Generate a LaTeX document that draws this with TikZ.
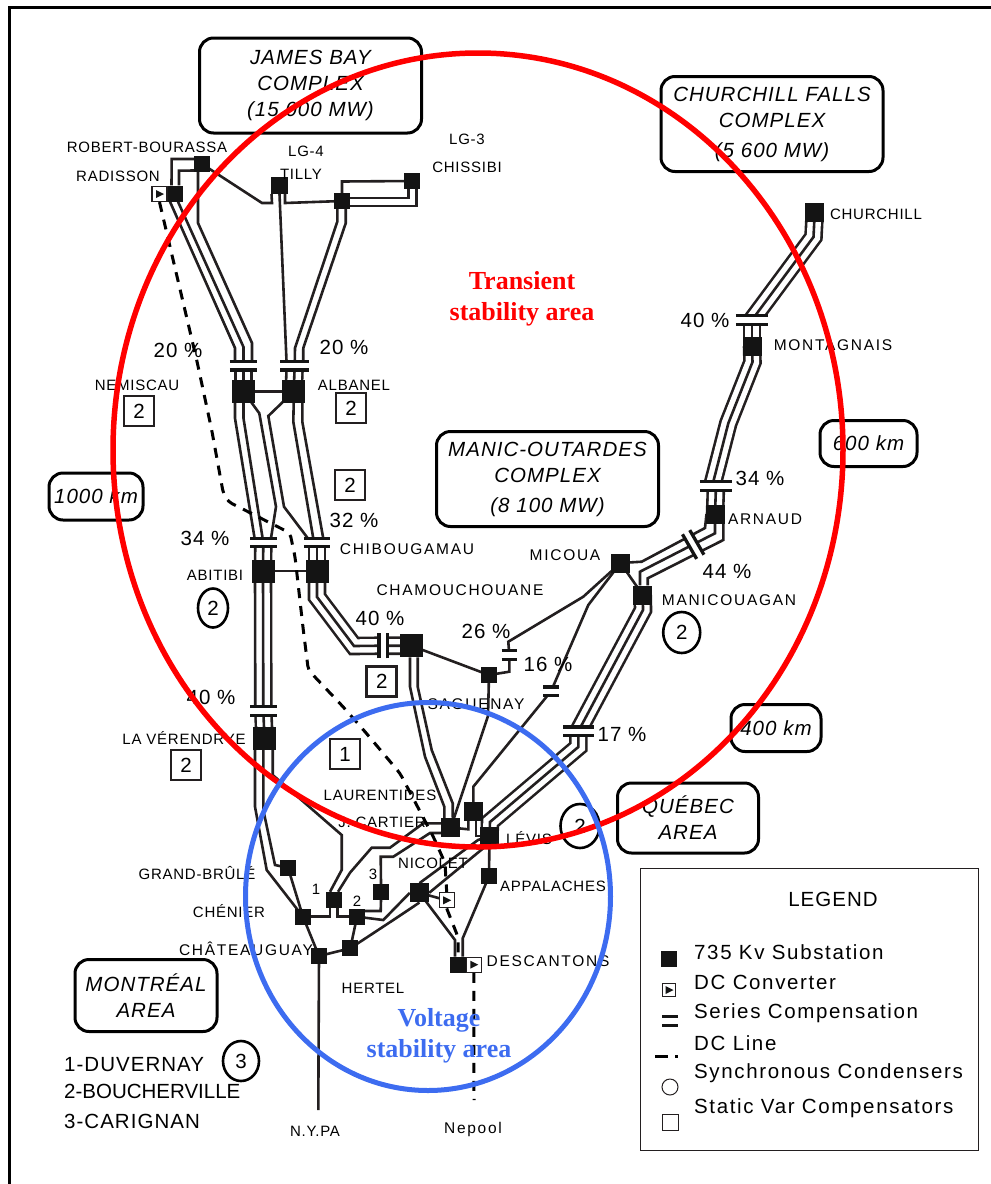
\documentclass[tikz,border=0pt]{standalone}
\usepackage{fontspec}
\setmainfont{Liberation Sans}
\newfontfamily\spacedsans[LetterSpace=5]{Liberation Sans}
\newfontfamily\legendsans[LetterSpace=8]{Liberation Sans}
\newfontfamily\widesans[LetterSpace=11]{Liberation Sans}
\newfontfamily\stabserif{Liberation Serif}
\usetikzlibrary{shapes,backgrounds}
\definecolor{ink}{HTML}{231F20}
\definecolor{subfill}{HTML}{141414}
\definecolor{voltblue}{HTML}{3D6CF0}

\begin{document}
\begin{tikzpicture}[
    x=1pt, y=-1pt,
    substation/.style={rectangle, fill=subfill, minimum size=16pt, inner sep=0pt},
    bigsub/.style={substation, minimum size=23pt},
    medsub/.style={substation, minimum size=19pt},
    converter/.style={rectangle, draw=ink, line width=1.2pt, fill=white, minimum size=15pt, inner sep=0pt,
        path picture={\fill[subfill] ([xshift=-3.5pt,yshift=4pt]path picture bounding box.center) -- ([xshift=4.5pt]path picture bounding box.center) -- ([xshift=-3.5pt,yshift=-4pt]path picture bounding box.center) -- cycle;}},
    barstroke/.style={draw=subfill, line width=3.3pt},
    seriescap/.style={rectangle, fill=white, minimum width=#1, minimum height=8pt, inner sep=0pt,
        append after command={(\tikzlastnode.north west) edge[barstroke] (\tikzlastnode.north east)
        (\tikzlastnode.south west) edge[barstroke] (\tikzlastnode.south east)}},
    tie/.style={draw=ink, line width=2.6pt},
    bundle/.style={draw=ink, line width=2.6pt, preaction={draw=ink, line width=18.6pt}, preaction={draw=white, line width=13.4pt}},
    dcline/.style={draw=black, line width=3pt, dash pattern=on 10pt off 8pt, rounded corners=4pt},
    site/.style={font=\spacedsans\fontsize{15}{17}\selectfont, inner sep=0pt},
    sitewide/.style={font=\widesans\fontsize{15.5}{17}\selectfont, inner sep=0pt},
    pct/.style={font=\spacedsans\fontsize{20.5}{24}\selectfont, inner sep=0pt},
    svc/.style={rectangle, draw=ink, line width=2.8pt, minimum size=30pt, inner sep=0pt, font=\fontsize{20.5}{24}\selectfont},
    syn/.style={ellipse, draw=black, line width=2.6pt, inner sep=0pt, font=\fontsize{20.5}{24}\selectfont},
    areabox/.style={rectangle, rounded corners=14pt, draw=black, line width=3pt, align=center, inner sep=0pt, font=\spacedsans\itshape\fontsize{20.5}{26}\selectfont},
    stabtext/.style={font=\stabserif\bfseries\fontsize{26}{30.5}\selectfont, align=center, inner sep=0pt},
    legtext/.style={anchor=west, font=\legendsans\fontsize{20.5}{24}\selectfont, inner sep=0pt}
]
\useasboundingbox (0,0) rectangle (991,1184);

\draw[black, line width=3pt] (991,7.5) -- (9.5,7.5) -- (9.5,1184);

\node[substation] (rbourassa) at (202,164) {};
\node[substation] (radisson) at (175,193.5) {};
\node[converter] (radconv) at (159.5,194) {};
\node[substation, minimum size=17pt] (tilly) at (279.5,185.5) {};
\node[substation] (lgthree) at (412,181) {};
\node[substation] (lgjunction) at (342,201) {};
\node[bigsub] (nemiscau) at (243.5,391.5) {};
\node[bigsub] (albanel) at (293.7,391.5) {};
\node[bigsub] (abitibi) at (263,571) {};
\node[bigsub] (chibougamau) at (317,571) {};
\node[bigsub] (verendrye) at (264.5,738.5) {};
\node[bigsub] (chamouchouane) at (411.3,645.7) {};
\node[substation] (saguenay) at (489,675) {};
\node[medsub] (micoua) at (620.5,563) {};
\node[medsub] (manicouagan) at (642.8,595) {};
\node[medsub] (arnaud) at (715,514) {};
\node[medsub] (montagnais) at (752,346) {};
\node[medsub] (churchill) at (814.7,212.8) {};
\node[substation] (grandbrule) at (288,867.7) {};
\node[substation] (chenier) at (303,916.7) {};
\node[substation] (duvernay) at (334,900) {};
\node[substation] (boucherville) at (357,916.7) {};
\node[substation] (carignan) at (381,892) {};
\node[substation] (chateauguay) at (319,956) {};
\node[substation] (hertel) at (350.3,948.3) {};
\node[medsub] (jcartier) at (450.8,827.5) {};
\node[medsub] (laurentides) at (473.3,811) {};
\node[medsub] (levis) at (489.5,836) {};
\node[medsub] (nicolet) at (419.5,892.8) {};
\node[converter] (nicconv) at (446.7,900.3) {};
\node[substation] (appalaches) at (489,876.3) {};
\node[substation] (descantons) at (458,964.7) {};
\node[converter] (desconv) at (473.8,964.7) {};

\node[seriescap=27pt] (nembar) at (243.5,365.7) {};
\node[seriescap=29pt] (albbar) at (294.7,365.7) {};
\node[seriescap=26pt] (abibar) at (263.3,542.5) {};
\node[seriescap=26pt] (chibar) at (317,542.5) {};
\node[seriescap=26pt] (verbar) at (263.3,711) {};
\node[seriescap=25pt, rotate=90] (chabar) at (383.3,645.7) {};
\node[seriescap=15pt] (sagbar) at (509.3,655) {};
\node[seriescap=15pt] (micbar) at (551,691.3) {};
\node[seriescap=30pt] (manbar) at (578.3,731.3) {};
\node[seriescap=28pt, rotate=-60] (tiebar) at (693.2,544.5) {};
\node[seriescap=31pt] (arnbar) at (716,486) {};
\node[seriescap=32pt] (monbar) at (752,320) {};

\coordinate (nypaend) at (318.3,1110);
\coordinate (nepoolend) at (474,1100);

\begin{scope}[on background layer]
\draw[tie] ([yshift=5pt]rbourassa.west) -- (171.7,159) -- ([xshift=-3.5pt]radisson.north);
\draw[tie] ([yshift=-6.5pt]rbourassa.west) -- (179,170.7) -- ([xshift=4pt]radisson.north);
\draw[tie] ([xshift=-4pt]rbourassa.south) -- (198,223) -- (252,343) -- ([xshift=8.5pt]nembar.center);
\draw[tie] ([xshift=-5pt]radisson.south) -- (235,348) -- ([xshift=-8.5pt]nembar.center);
\draw[tie] ([xshift=3pt]radisson.south) -- (243.5,347) -- (nembar.center);
\draw[tie] (rbourassa.center) -- (262,203) -- (272,203) -- ([xshift=-8pt]tilly.south);
\draw[tie] ([xshift=5.5pt]tilly.south) -- (285,203) -- (lgjunction.center);
\draw[tie] (tilly.south) -- ([xshift=-8pt]albbar.center);
\draw[tie] ([xshift=-4.7pt]lgjunction.south) -- (337.3,221.7) -- (295,348) -- (albbar.center);
\draw[tie] ([xshift=3.7pt]lgjunction.south) -- (345.7,223.3) -- (303.3,348) -- ([xshift=8.5pt]albbar.center);
\draw[tie] (lgjunction.north) -- (342,181.5) -- (lgthree.center);
\draw[tie] ([yshift=3pt]lgjunction.east) -- (408.3,198) -- ([xshift=-3.7pt]lgthree.south);
\draw[tie] ([yshift=-5pt]lgjunction.east) -- (416.7,206) -- ([xshift=4.7pt]lgthree.south);
\draw[bundle] (nembar.center) -- (nemiscau.center);
\draw[bundle] (albbar.center) -- (albanel.center);
\draw[tie] (nemiscau.center) -- (albanel.center);
\draw[tie] ([xshift=-8.5pt]nemiscau.south) -- (235,418.3) -- ([xshift=-8pt]abibar.center);
\draw[tie] (nemiscau.south) -- (243.5,418.3) -- (abibar.center);
\draw[tie] (nemiscau.center) -- (259.3,413.3) -- (276,506.7) -- ([xshift=7pt]abibar.center);
\draw[tie] (albanel.center) -- (268.3,416) -- (284,506.7) -- ([xshift=-6pt]chibar.center);
\draw[tie] (albanel.south) -- (293.3,421.7) -- ([xshift=-3pt]chibar.center);
\draw[tie] ([xshift=8.6pt]albanel.south) -- (302.3,421.7) -- ([xshift=7pt]chibar.center);
\draw[bundle] (abibar.center) -- (abitibi.center);
\draw[bundle] (chibar.center) -- (chibougamau.center);
\draw[tie] (abitibi.center) -- (chibougamau.center);
\draw[bundle] (abitibi.center) -- (verbar.center);
\draw[bundle] (verbar.center) -- (verendrye.center);
\draw[bundle] (chibougamau.center) -- (317,597) -- (354,646) -- (chabar.center) -- (chamouchouane.center);
\draw[tie] ([xshift=-1.3pt]chamouchouane.south) -- (410,686.7) -- (425,756.7) -- (444.3,806.7) -- ([xshift=-6.5pt]jcartier.north);
\draw[tie] ([xshift=6.4pt]chamouchouane.south) -- (417.7,686.7) -- (431.7,750) -- (452.7,803.3) -- ([xshift=2pt]jcartier.north);
\draw[tie] (chamouchouane.center) -- (saguenay.center);
\draw[tie] (saguenay.center) -- (488,716) -- (jcartier.center);
\draw[tie] (saguenay.center) -- (509.3,671.7) -- (sagbar.center);
\draw[tie] (sagbar.center) -- (508.3,641.7) -- (583.3,596.7) -- (micoua.center);
\draw[tie] (micoua.center) -- (588.3,605) -- (micbar.center);
\draw[tie] (micbar.center) -- (473.3,786.7) -- (laurentides.center);
\draw[tie] (micoua.center) -- (manicouagan.center);
\draw[tie] (micoua.center) -- (641.7,561.7) -- (705,528) -- ([xshift=-8.5pt]arnaud.center);
\draw[tie] ([xshift=-2.8pt]manicouagan.north) -- (640,571.7) -- (715,533.3) -- (arnaud.center);
\draw[tie] ([xshift=4.9pt]manicouagan.north) -- (647.7,578.3) -- (723.3,540) -- ([xshift=8.3pt]arnaud.center);
\draw[bundle] (churchill.center) -- (813.5,237) -- (monbar.center);
\draw[bundle] (monbar.center) -- (montagnais.center);
\draw[bundle] (montagnais.center) -- (752.5,362) -- (728.3,423.3) -- (713.3,481.7) -- (arnbar.center);
\draw[bundle] (arnbar.center) -- (arnaud.center);
\draw[bundle] (manicouagan.center) -- (643,610) -- (manbar.center);
\draw[bundle] (manbar.center) -- (578.3,747) -- (490,822) -- (levis.center);
\draw[tie] ([xshift=-9.5pt]verendrye.south) -- (255,806.7) -- (266.7,870) -- (chenier.center);
\draw[tie] ([xshift=-1.2pt]verendrye.south) -- (263.3,810) -- (275,865) -- (grandbrule.center);
\draw[tie] ([xshift=8.2pt]verendrye.south) -- (272.7,775) -- (341.7,835) -- (341.7,870) -- ([xshift=-4pt]duvernay.north);
\draw[tie] (grandbrule.center) -- (chenier.center);
\draw[tie] (chenier.center) -- (330,916.7) -- ([xshift=-4pt]duvernay.south);
\draw[tie] ([xshift=3.3pt]duvernay.south) -- (337.3,916.7) -- (boucherville.center);
\draw[tie] ([yshift=5.7pt]boucherville.east) -- (380.7,911) -- (carignan.south);
\draw[tie] (carignan.north) -- (380.7,856.7) -- (393.3,856.7) -- (430,833) -- ([yshift=-5.5pt]jcartier.center);
\draw[tie] ([xshift=4pt]duvernay.north) -- (350,872.7) -- (371.7,847.7) -- (390,847.7) -- (423.3,823.3) -- ([yshift=4.2pt]jcartier.center);
\draw[tie] (jcartier.center) -- (468.3,829.3) -- ([xshift=-5pt]laurentides.south);
\draw[tie] ([xshift=2.7pt]laurentides.south) -- (476,836) -- (levis.center);
\draw[tie] (nicolet.north) -- (478,840) -- (levis.center);
\draw[tie] (nicolet.east) -- (486,846) -- (levis.center);
\draw[tie] (nicolet.center) -- (nicconv.center);
\draw[tie] (nicolet.center) -- (455,940) -- ([xshift=-3pt]descantons.north);
\draw[tie] (appalaches.center) -- (462.7,938.3) -- ([xshift=4.7pt]descantons.north);
\draw[tie] (levis.center) -- (appalaches.center);
\draw[tie] (nicolet.west) -- (383.3,920) -- (boucherville.center);
\draw[tie] (nicolet.south) -- (393.3,920) -- (hertel.center);
\draw[tie] (hertel.center) -- (boucherville.center);
\draw[tie] (chateauguay.center) -- (hertel.center);
\draw[tie] (chenier.center) -- (chateauguay.center);
\draw[tie] (chateauguay.center) -- (nypaend);
\draw[dcline] (radconv.south) -- (196.7,360) -- (211.7,430) -- (223.3,493.3) -- (228.3,501.7) -- (290,533) -- (295,556.7) -- (303.3,630) -- (308.3,670) -- (343,706.7) -- (365,731.7) -- (400,773.3) -- (433.3,836.7) -- (440,851.7) -- (445,863) -- (nicconv.north);
\draw[dcline] (nicconv.south) -- (458,937) -- (descantons.north);
\draw[dcline] (desconv.south) -- (nepoolend);
\end{scope}

\node[areabox, minimum width=222pt, minimum height=95pt] (jamesbox) at (310.5,85.5) {JAMES BAY\\COMPLEX\\(15 000 MW)};
\node[areabox, minimum width=222pt, minimum height=95pt] (churchbox) at (772,124) {CHURCHILL FALLS\\COMPLEX\\[4pt](5 600 MW)};
\node[areabox, minimum width=222pt, minimum height=95pt] (manicbox) at (547.5,479) {MANIC-OUTARDES\\COMPLEX\\[4pt](8 100 MW)};
\node[areabox, minimum width=141pt, minimum height=70pt] (quebecbox) at (688,818) {QUÉBEC\\AREA};
\node[areabox, minimum width=142pt, minimum height=72pt] (montrealbox) at (146,995.5) {MONTRÉAL\\AREA};
\node[areabox, minimum width=90pt, minimum height=47pt] (fourbox) at (776,728) {400 km};
\node[areabox, minimum width=97pt, minimum height=46pt] (sixbox) at (868.5,443.5) {600 km};
\node[areabox, minimum width=94pt, minimum height=47pt] (thousandbox) at (96,496.5) {1000 km};

\node[site] (lbrb) at (147,147) {ROBERT-BOURASSA};
\node[site] (lbrad) at (118,176) {RADISSON};
\node[site] (lblgf) at (306,151) {LG-4};
\node[site] (lbtil) at (301,174) {TILLY};
\node[site] (lblgt) at (467,139) {LG-3};
\node[site] (lbchi) at (467,167) {CHISSIBI};
\node[site] (lbchu) at (876,214) {CHURCHILL};
\node[sitewide] (lbmon) at (833,345) {MONTAGNAIS};
\node[sitewide] (lbarn) at (765,519) {ARNAUD};
\node[site] (lbnem) at (137,385) {NEMISCAU};
\node[site] (lbalb) at (354,385) {ALBANEL};
\node[site] (lbabi) at (215,575) {ABITIBI};
\node[sitewide] (lbcbg) at (407,549) {CHIBOUGAMAU};
\node[sitewide] (lbcha) at (460,590) {CHAMOUCHOUANE};
\node[sitewide] (lbsag) at (476,704) {SAGUENAY};
\node[site] (lbver) at (184,738) {LA VÉRENDRYE};
\node[sitewide] (lbmic) at (565,555) {MICOUA};
\node[sitewide] (lbman) at (729,600) {MANICOUAGAN};
\node[site] (lblau) at (380,795) {LAURENTIDES};
\node[site] (lbjca) at (382,822) {J. CARTIER};
\node[site] (lblev) at (529,838) {LÉVIS};
\node[site] (lbnic) at (433,863) {NICOLET};
\node[site] (lbapp) at (553,886) {APPALACHES};
\node[sitewide] (lbdes) at (548,961) {DESCANTONS};
\node[site] (lbgra) at (197,873) {GRAND-BRÛLÉ};
\node[site] (lbche) at (229,911) {CHÉNIER};
\node[sitewide] (lbcht) at (246,949) {CHÂTEAUGUAY};
\node[site] (lbher) at (373,988) {HERTEL};
\node[site] (lbone) at (316,889) {1};
\node[site] (lbtwo) at (357,901) {2};
\node[site] (lbthr) at (373,874) {3};
\node[site] (lbnyp) at (315,1131) {N.Y.PA};
\node[sitewide] (lbnep) at (473,1129) {Nepool};

\node[pct] (pcnem) at (178,350) {20 \%};
\node[pct] (pcalb) at (344,347) {20 \%};
\node[pct] (pcabi) at (205,538) {34 \%};
\node[pct] (pcchi) at (354,520) {32 \%};
\node[pct] (pccha) at (380,618) {40 \%};
\node[pct] (pcsag) at (486,631) {26 \%};
\node[pct] (pcmic) at (548,664) {16 \%};
\node[pct] (pcver) at (211,697) {40 \%};
\node[pct] (pcman) at (622,734) {17 \%};
\node[pct] (pctie) at (727,571) {44 \%};
\node[pct] (pcarn) at (760,478) {34 \%};
\node[pct] (pcmon) at (705,320) {40 \%};

\node[svc] (svnem) at (139,411) {2};
\node[svc] (svalb) at (351,408) {2};
\node[svc] (svchi) at (350,485) {2};
\node[svc] (svcha) at (381.7,681.7) {2};
\node[svc] (svver) at (186,765) {2};
\node[svc] (svone) at (345,754) {1};
\node[syn, minimum width=30pt, minimum height=39pt] (syabi) at (213,608) {2};
\node[syn, minimum width=37pt, minimum height=41pt] (syman) at (681.7,632.5) {2};
\node[syn, minimum width=39pt, minimum height=44pt] (sylev) at (580,826) {2};
\node[syn, minimum width=36pt, minimum height=40pt] (symon) at (241,1061) {3};

\node[pct, anchor=west] (lsduv) at (64,1065) {1-DUVERNAY};
\node[pct, anchor=west, font=\fontsize{20.5}{24}\selectfont] (lsbou) at (64,1091) {2-BOUCHERVILLE};
\node[pct, anchor=west] (lscar) at (64,1121) {3-CARIGNAN};

\node[rectangle, draw=ink, line width=1pt, minimum width=338pt, minimum height=282pt] (legendbox) at (809,1009) {};
\node[pct] (legtitle) at (833,899) {LEGEND};
\node[substation] (legsub) at (669,959) {};
\node[converter, minimum size=13pt, line width=1pt] (legconv) at (669,990) {};
\node[seriescap=15pt] (legbar) at (670,1021) {};
\coordinate (legdcl) at (655,1056);
\coordinate (legdcr) at (682,1056);
\draw[black, line width=3pt, dash pattern=on 13pt off 7pt on 3pt off 20pt] (legdcl) -- (legdcr);
\node[circle, draw=ink, line width=1pt, minimum size=16pt, inner sep=0pt] (legsyn) at (670,1087) {};
\node[rectangle, draw=ink, line width=1pt, minimum size=16pt, inner sep=0pt] (legsvc) at (670,1122) {};
\node[legtext] (lgone) at (694,952) {735 Kv Substation};
\node[legtext] (lgtwo) at (694,982) {DC Converter};
\node[legtext] (lgthr) at (694,1013) {Series Compensation};
\node[legtext] (lgfou) at (694,1043) {DC Line};
\node[legtext] (lgfiv) at (694,1073) {Synchronous Condensers};
\node[legtext] (lgsix) at (694,1108) {Static Var Compensators};

\draw[red, line width=5.5pt] (478,450) ellipse [x radius=365, y radius=397];
\draw[voltblue, line width=5pt] (428,896.5) ellipse [x radius=182.5, y radius=194];
\node[stabtext, red] (transtext) at (522,299) {Transient\\stability area};
\node[stabtext, voltblue] (volttext) at (439,1036) {Voltage\\stability area};
\end{tikzpicture}
\end{document}
